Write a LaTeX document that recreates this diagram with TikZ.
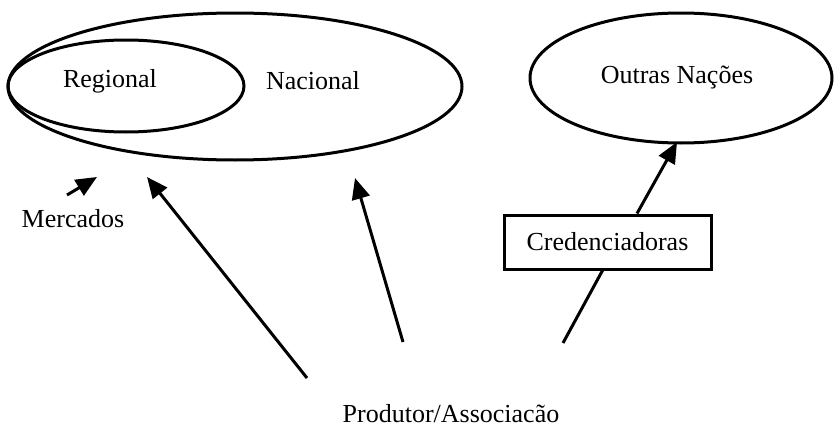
\documentclass[tikz,border=0pt]{standalone}
\usepackage{fontspec}
\setmainfont{Liberation Serif}
\usetikzlibrary{shapes.geometric,arrows.meta}
\begin{document}
\begin{tikzpicture}[x=1pt,y=-1pt,
  txt/.style={font=\fontsize{26}{29}\selectfont, inner sep=0pt},
  oval/.style={draw, ellipse, line width=3pt, inner sep=0pt},
  arr/.style={line width=3pt, -{Triangle[length=21pt,width=18pt]}},
  ln/.style={line width=3pt}]
\useasboundingbox (0,0) rectangle (836,431);
% ovals
\node[oval, minimum width=454pt, minimum height=147pt] (nac) at (235,86.5) {};
\node[oval, minimum width=236pt, minimum height=92pt] (reg) at (126,86) {};
\node[oval, minimum width=302pt, minimum height=130pt] (out) at (681,78) {};
% texts
\node[txt] (treg) at (110,81) {Regional};
\node[txt] (tnac) at (313,81) {Nacional};
\node[txt] (tout) at (677,78) {Outras Nações};
\node[txt] (merc) at (73,219) {Mercados};
\node[txt] (prod) at (451,414) {Produtor/Associacão};
\node[draw, line width=3pt, minimum width=207pt, minimum height=54pt, inner sep=0pt,
      font=\fontsize{26}{29}\selectfont] (cred) at (607.5,242) {Credenciadoras};
% coordinates
\coordinate (m1) at (67,195);
\coordinate (m2) at (97,177);
\coordinate (a1) at (307,378);
\coordinate (a2) at (147,177);
\coordinate (b1) at (403,342);
\coordinate (b2) at (355,178);
\coordinate (c1) at (563,343);
\coordinate (c2) at (677,142);
% connectors
\draw[arr] (m1) -- (m2);
\draw[arr] (a1) -- (a2);
\draw[arr] (b1) -- (b2);
\draw[ln] (c1) -- (cred.south -| 602.5,0);
\draw[arr] (cred.north -| 637,0) -- (c2);
\end{tikzpicture}
\end{document}
